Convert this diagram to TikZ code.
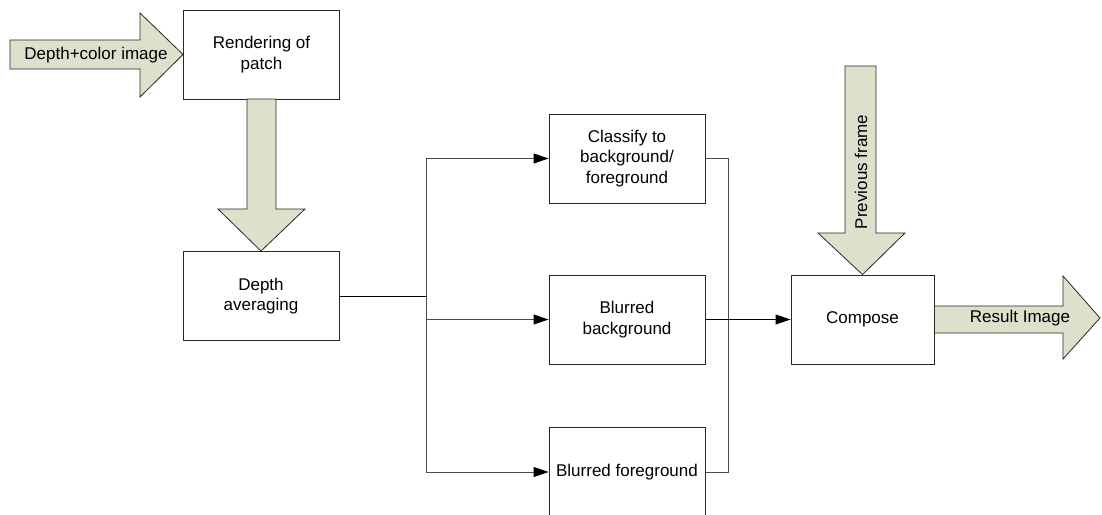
\documentclass[tikz,border=0pt]{standalone}
\usepackage{fontspec}
\setmainfont{Liberation Sans}
\usetikzlibrary{arrows.meta}
\definecolor{arrowfill}{RGB}{221,224,203}
\definecolor{edge}{RGB}{40,40,40}
\begin{document}
\begin{tikzpicture}[x=1pt,y=-1pt,
  every node/.style={font=\fontsize{17}{20.4}\selectfont, text=black},
  box/.style={draw=edge, line width=0.9pt, fill=white, minimum width=156pt,
    minimum height=89pt, align=center, inner sep=0pt},
  bigarrow/.style={draw=edge, line width=0.8pt, fill=arrowfill, line join=miter},
  link/.style={draw=black!70, line width=1pt},
  flow/.style={link, -{Triangle[length=15pt,width=10pt,color=black]}}]
\useasboundingbox (0,0) rectangle (1102,514);
\clip (0,0) rectangle (1102,514);

% process boxes
\node[box] (render) at (261.5,54.5) {Rendering of\\patch};
\node[box] (avg) at (261,296) {Depth\\averaging};
\node[box] (cls) at (627,158.5) {Classify to\\background/\\foreground};
\node[box] (bbg) at (627,319.5) {Blurred\\background};
\node[box] (bfg) at (627,472) {Blurred foreground};
\node[box, minimum width=143pt] (comp) at (862.5,319.5) {Compose};

% wide input / output arrows
\draw[bigarrow] (10,40) -- (140,40) -- (140,13) -- (render.west) -- (140,97) -- (140,69) -- (10,69) -- cycle;
\node (inlbl) at (96,55) {Depth+color image};

\draw[bigarrow] (247,99) -- (247,209) -- (218,209) -- (avg.north) -- (305,209) -- (276,209) -- (276,99) -- cycle;

\draw[bigarrow] (845,66) -- (845,233) -- (818,233) -- (comp.north) -- (905,233) -- (876,233) -- (876,66) -- cycle;
\node[rotate=90] (prevlbl) at (861,172) {Previous frame};

\draw[bigarrow] (comp.east |- 0,306) -- (1063,306) -- (1063,276) -- (1100,318) -- (1063,359) -- (1063,333) -- (comp.east |- 0,333) -- cycle;
\node (outlbl) at (1020,318) {Result Image};

% branching connectors
\coordinate (split) at (426,296);
\coordinate (splitTop) at (426,158.5);
\coordinate (splitMid) at (426,319.5);
\coordinate (splitBot) at (426,472);
\coordinate (joinTop) at (728,158.5);
\coordinate (joinBot) at (728,472);

\draw[link, black] (avg.east) -- (split);
\draw[link] (splitTop) -- (splitBot);
\draw[flow] (splitTop) -- (cls.west);
\draw[flow] (splitMid) -- (bbg.west);
\draw[flow] (splitBot) -- (bfg.west);

\draw[link] (cls.east) -- (joinTop) -- (joinBot) -- (bfg.east);
\draw[flow, black] (bbg.east) -- (comp.west);
\end{tikzpicture}
\end{document}
